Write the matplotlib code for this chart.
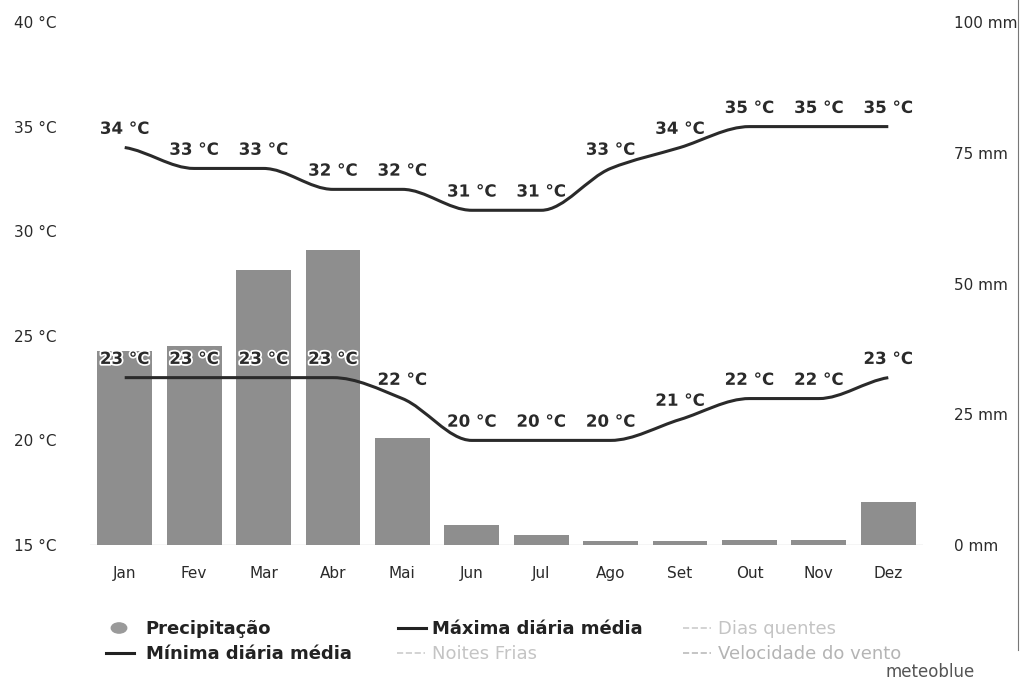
import numpy as np
import matplotlib
matplotlib.use("Agg")
import matplotlib.pyplot as plt
from matplotlib.path import Path
from matplotlib.patches import PathPatch
from matplotlib.lines import Line2D
import matplotlib.patheffects as pe

# Data
months = ['Jan', 'Fev', 'Mar', 'Abr', 'Mai', 'Jun', 'Jul', 'Ago', 'Set', 'Out', 'Nov', 'Dez']
precip_mm = [37, 38, 52.5, 56.5, 20.5, 3.8, 1.9, 0.8, 0.8, 1.0, 1.0, 8.2]
temp_max = [34, 33, 33, 32, 32, 31, 31, 33, 34, 35, 35, 35]
temp_min = [23, 23, 23, 23, 22, 20, 20, 20, 21, 22, 22, 23]
temp_ticks = [15, 20, 25, 30, 35, 40]
mm_ticks = [0, 25, 50, 75, 100]

TEXT = '#2a2a2a'
BAR = '#8e8e8e'


def monotone_slopes(x, y):
    # slopes for a monotone cubic curve (flat at plateaus / extremes)
    x = np.asarray(x, float)
    y = np.asarray(y, float)
    d = np.diff(y) / np.diff(x)
    m = np.zeros_like(y)
    for i in range(1, len(y) - 1):
        if d[i - 1] * d[i] > 0:
            m[i] = 2 / (1 / d[i - 1] + 1 / d[i])
    m[0] = d[0] * 0.5
    m[-1] = d[-1] * 0.5
    return m


def smooth_path(x, y):
    m = monotone_slopes(x, y)
    verts = [(x[0], y[0])]
    codes = [Path.MOVETO]
    for i in range(len(x) - 1):
        h = (x[i + 1] - x[i]) / 3
        verts += [(x[i] + h, y[i] + m[i] * h),
                  (x[i + 1] - h, y[i + 1] - m[i + 1] * h),
                  (x[i + 1], y[i + 1])]
        codes += [Path.CURVE4] * 3
    return Path(verts, codes)


fig = plt.figure(figsize=(10.29, 6.82), dpi=100)
ax = fig.add_axes([90 / 1029, 1 - 545 / 682, 833 / 1029, 523 / 682])
ax2 = ax.twinx()
ax.set_zorder(ax2.get_zorder() + 1)
ax.patch.set_visible(False)

x = np.arange(len(months))

# precipitation bars on the right axis
ax2.bar(x, precip_mm, width=0.79, color=BAR, zorder=2)
ax2.set_ylim(0, 100)
ax2.set_yticks(mm_ticks)
ax2.set_yticklabels([f'{v} mm' for v in mm_ticks])
ax2.axhline(0, color='#cccccc', lw=1, zorder=1)

# temperature curves
ax.set_xlim(-0.5, 11.5)
ax.set_ylim(15, 40)
for series in (temp_max, temp_min):
    ax.add_patch(PathPatch(smooth_path(x, series), fill=False,
                           edgecolor='#2a2a2a', lw=2.2, zorder=3))
    for xi, v in zip(x, series):
        ax.annotate(f'{v} °C', (xi, v), xytext=(0, 7), textcoords='offset points',
                    ha='center', va='bottom', fontsize=12, fontweight='bold',
                    color=TEXT, zorder=4,
                    path_effects=[pe.withStroke(linewidth=2.5, foreground='white')])

ax.set_yticks(temp_ticks)
ax.set_yticklabels([f'{v} °C' for v in temp_ticks])
ax.set_xticks(x)
ax.set_xticklabels(months)

for a in (ax, ax2):
    for s in a.spines.values():
        s.set_visible(False)
    a.tick_params(length=0, labelsize=11, colors=TEXT)
ax.tick_params(axis='y', pad=24)
ax.tick_params(axis='x', pad=15)
ax2.tick_params(axis='y', pad=22)

# legend drawn by hand, laid out like the original
def legend_line(x0, y0, color, ls='-', lw=2.2):
    fig.add_artist(Line2D([x0 / 1029, (x0 + 28) / 1029], [1 - y0 / 682] * 2,
                          color=color, ls=ls, lw=lw))

def legend_text(x0, y0, s, color, bold=True):
    fig.text(x0 / 1029, 1 - y0 / 682, s, color=color, fontsize=13,
             fontweight='bold' if bold else 'normal', va='center', ha='left')

fig.add_artist(plt.Circle((119 / 1029, 1 - 628 / 682), 0.0075, color='#9a9a9a',
                          transform=fig.transFigure))
legend_text(145, 629, 'Precipitação', '#222222')
legend_line(398, 628, '#222222')
legend_text(432, 629, 'Máxima diária média', '#222222')
legend_line(683, 628, '#cccccc', ls='--', lw=1.2)
legend_text(718, 629, 'Dias quentes', '#c4c4c4', bold=False)
legend_line(106, 653, '#222222')
legend_text(146, 654, 'Mínima diária média', '#222222')
legend_line(397, 653, '#cccccc', ls='--', lw=1.2)
legend_text(432, 654, 'Noites Frias', '#c4c4c4', bold=False)
legend_line(683, 653, '#bbbbbb', ls='--', lw=1.2)
legend_text(718, 654, 'Velocidade do vento', '#b4b4b4', bold=False)
fig.text(975 / 1029, 1 - 672 / 682, 'meteoblue', color='#555555', fontsize=12,
         ha='right', va='center')

# scan border on the right edge
fig.add_artist(Line2D([1018 / 1029] * 2, [1 - 650 / 682, 1.0], color='#777777', lw=0.8))

fig.savefig('out.png', dpi=100)
